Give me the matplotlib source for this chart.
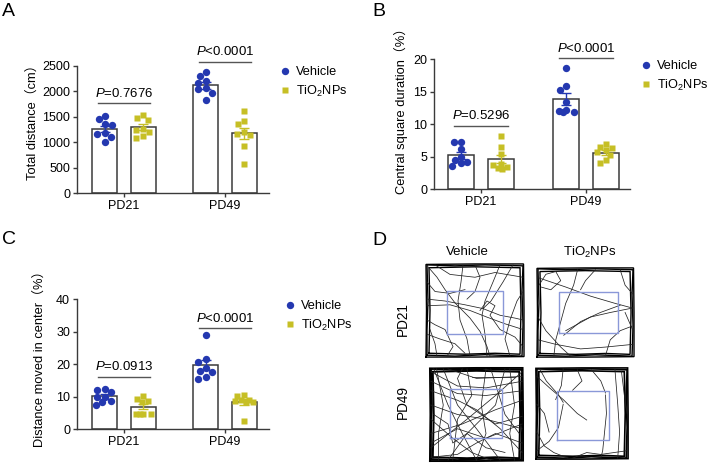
import matplotlib
matplotlib.use('Agg')
import matplotlib.pyplot as plt
import numpy as np
from matplotlib.lines import Line2D

plt.rcParams['font.family'] = ['Liberation Sans', 'Noto Sans CJK SC', 'DejaVu Sans']
plt.rcParams['mathtext.fontset'] = 'custom'
plt.rcParams['mathtext.rm'] = 'Liberation Sans'
plt.rcParams['mathtext.it'] = 'Liberation Sans:italic'

# ---------------- data ----------------
groups = ['PD21', 'PD49']
legend_labels = ['Vehicle', 'TiO$_2$NPs']

# A: total distance (cm)
dist_vehicle = [[1520, 1450, 1350, 1330, 1180, 1170, 1100, 1000],
                [2380, 2300, 2205, 2170, 2060, 2040, 1975, 1830]]
dist_tio2 = [[1535, 1480, 1437, 1260, 1240, 1207, 1122, 1089],
             [1620, 1420, 1350, 1200, 1170, 1140, 930, 570]]
dist_p = ['=0.7676', '<0.0001']
dist_pline = [1766, 2585]
dist_ticks = [0, 500, 1000, 1500, 2000, 2500]

# B: central square duration (%)
dur_vehicle = [[7.2, 7.2, 6.1, 4.9, 4.4, 4.2, 4.0, 3.6],
               [18.6, 15.9, 15.2, 13.4, 12.2, 12.0, 11.9, 11.8]]
dur_tio2 = [[8.2, 6.4, 5.4, 3.8, 3.7, 3.4, 3.2, 3.1],
            [6.9, 6.4, 6.3, 6.0, 5.7, 5.2, 4.4, 4.0]]
dur_p = ['=0.5296', '<0.0001']
dur_pline = [9.76, 20.1]
dur_ticks = [0, 5, 10, 15, 20]

# C: distance moved in center (%)
cen_vehicle = [[12.3, 11.85, 11.5, 10.0, 9.8, 8.7, 8.4, 7.46],
               [28.9, 21.4, 20.7, 18.8, 17.9, 17.5, 16.1, 15.4]]
cen_tio2 = [[10.3, 9.1, 8.6, 8.3, 4.7, 4.7, 4.7, 4.7],
            [10.4, 10.1, 8.9, 8.8, 8.6, 8.4, 8.2, 2.45]]
cen_p = ['=0.0913', '<0.0001']
cen_pline = [16.05, 31.0]
cen_ticks = [0, 10, 20, 30, 40]

# D: open-field tracks (normalised arena coordinates)
track_walls = [
    [(0.02, 0.03), (0.3, 0.02), (0.6, 0.035), (0.97, 0.02), (0.98, 0.35), (0.97, 0.7), (0.98, 0.97),
     (0.6, 0.98), (0.3, 0.97), (0.02, 0.98), (0.03, 0.6), (0.02, 0.3), (0.02, 0.03)],
    [(0.04, 0.05), (0.4, 0.04), (0.7, 0.05), (0.95, 0.04), (0.96, 0.5), (0.95, 0.95),
     (0.5, 0.96), (0.04, 0.95), (0.05, 0.5), (0.04, 0.05)],
    [(0.01, 0.01), (0.5, 0.01), (0.99, 0.015), (0.99, 0.5), (0.985, 0.99), (0.5, 0.99),
     (0.01, 0.985), (0.015, 0.5), (0.01, 0.01)],
]
track_pd21_vehicle = [
    [(0.03, 0.96), (0.12, 0.85), (0.2, 0.72), (0.3, 0.58), (0.45, 0.42), (0.55, 0.28), (0.62, 0.12), (0.65, 0.02)],
    [(0.02, 0.62), (0.2, 0.6), (0.4, 0.56), (0.58, 0.52), (0.75, 0.45), (0.9, 0.42), (0.98, 0.4)],
    [(0.02, 0.55), (0.25, 0.56), (0.45, 0.5), (0.62, 0.43), (0.8, 0.36), (0.98, 0.3)],
    [(0.38, 0.98), (0.36, 0.8), (0.33, 0.6), (0.35, 0.4), (0.42, 0.2), (0.45, 0.02)],
    [(0.75, 0.98), (0.68, 0.8), (0.6, 0.6), (0.57, 0.45), (0.6, 0.25), (0.62, 0.02)],
    [(0.88, 0.98), (0.78, 0.8), (0.66, 0.6), (0.58, 0.52)],
    [(0.02, 0.25), (0.15, 0.2), (0.3, 0.15), (0.4, 0.05)],
    [(0.55, 0.5), (0.62, 0.6), (0.7, 0.55), (0.65, 0.45), (0.75, 0.3), (0.9, 0.22), (0.98, 0.12)],
    [(0.1, 0.98), (0.25, 0.88), (0.5, 0.85), (0.7, 0.9), (0.98, 0.85)],
    [(0.02, 0.4), (0.1, 0.35), (0.2, 0.3), (0.28, 0.12), (0.22, 0.02)],
    [(0.85, 0.02), (0.8, 0.2), (0.85, 0.4), (0.92, 0.6), (0.98, 0.7)],
    [(0.5, 0.98), (0.55, 0.85), (0.5, 0.7), (0.42, 0.62)],
    [(0.12, 0.02), (0.1, 0.15), (0.05, 0.3)],
    [(0.02, 0.8), (0.1, 0.7), (0.25, 0.68), (0.4, 0.72)],
]
track_pd21_tio2 = [
    [(0.03, 0.8), (0.1, 0.92), (0.2, 0.95), (0.25, 0.85), (0.15, 0.75), (0.05, 0.78)],
    [(0.42, 0.97), (0.38, 0.8), (0.3, 0.6), (0.25, 0.4), (0.2, 0.2), (0.18, 0.02)],
    [(0.03, 0.88), (0.3, 0.78), (0.55, 0.68), (0.8, 0.6), (0.97, 0.55)],
    [(0.28, 0.25), (0.45, 0.4), (0.65, 0.5), (0.85, 0.58)],
    [(0.3, 0.3), (0.55, 0.45), (0.75, 0.5), (0.98, 0.55)],
    [(0.02, 0.2), (0.2, 0.15), (0.45, 0.1), (0.7, 0.12), (0.98, 0.15)],
    [(0.85, 0.97), (0.9, 0.8), (0.98, 0.7)],
    [(0.02, 0.45), (0.1, 0.3), (0.25, 0.12), (0.35, 0.02)],
    [(0.7, 0.02), (0.75, 0.2), (0.85, 0.3), (0.97, 0.35)],
    [(0.6, 0.97), (0.5, 0.85), (0.45, 0.75)],
    [(0.98, 0.3), (0.9, 0.5)],
]
track_pd49_vehicle = [
    [(0.02, 0.95), (0.3, 0.8), (0.6, 0.78), (0.98, 0.85)],
    [(0.02, 0.85), (0.3, 0.72), (0.6, 0.7), (0.98, 0.75)],
    [(0.05, 0.98), (0.2, 0.6), (0.35, 0.3), (0.5, 0.02)],
    [(0.15, 0.98), (0.3, 0.6), (0.5, 0.35), (0.75, 0.02)],
    [(0.02, 0.6), (0.3, 0.5), (0.6, 0.45), (0.98, 0.35)],
    [(0.02, 0.3), (0.35, 0.4), (0.7, 0.55), (0.98, 0.65)],
    [(0.6, 0.98), (0.55, 0.6), (0.6, 0.3), (0.5, 0.02)],
    [(0.8, 0.98), (0.7, 0.6), (0.4, 0.3), (0.2, 0.02)],
    [(0.98, 0.95), (0.7, 0.7), (0.4, 0.45), (0.02, 0.15)],
    [(0.02, 0.45), (0.25, 0.25), (0.45, 0.1), (0.65, 0.02)],
    [(0.9, 0.02), (0.85, 0.3), (0.9, 0.6), (0.85, 0.98)],
    [(0.1, 0.02), (0.1, 0.3), (0.15, 0.6), (0.08, 0.98)],
    [(0.98, 0.2), (0.7, 0.3), (0.5, 0.2), (0.3, 0.08), (0.02, 0.05)],
    [(0.4, 0.98), (0.45, 0.7), (0.3, 0.45), (0.25, 0.02)],
    [(0.02, 0.75), (0.3, 0.65), (0.5, 0.55), (0.75, 0.35), (0.98, 0.1)],
    [(0.45, 0.9), (0.9, 0.9)],
    [(0.2, 0.98), (0.5, 0.88), (0.98, 0.9)],
    [(0.65, 0.98), (0.8, 0.5), (0.95, 0.3)],
    [(0.02, 0.2), (0.3, 0.35), (0.6, 0.25), (0.98, 0.4)],
    [(0.35, 0.98), (0.3, 0.88), (0.4, 0.6), (0.7, 0.4), (0.98, 0.48)],
    [(0.05, 0.5), (0.2, 0.4), (0.25, 0.2), (0.4, 0.3), (0.6, 0.15), (0.8, 0.1)],
]
track_pd49_tio2 = [
    [(0.02, 0.9), (0.15, 0.78), (0.3, 0.65), (0.45, 0.5), (0.55, 0.43)],
    [(0.05, 0.98), (0.12, 0.85), (0.25, 0.7), (0.3, 0.62)],
    [(0.3, 0.98), (0.28, 0.8), (0.22, 0.65)],
    [(0.75, 0.7), (0.76, 0.5), (0.74, 0.3), (0.72, 0.1), (0.7, 0.02)],
    [(0.02, 0.1), (0.15, 0.2), (0.25, 0.35), (0.3, 0.6)],
    [(0.02, 0.3), (0.1, 0.15), (0.2, 0.08), (0.35, 0.02)],
    [(0.4, 0.02), (0.55, 0.08), (0.7, 0.06), (0.98, 0.1)],
    [(0.45, 0.97), (0.5, 0.85), (0.4, 0.75)],
    [(0.85, 0.98), (0.88, 0.6), (0.9, 0.3), (0.88, 0.02)],
    [(0.6, 0.97), (0.7, 0.85), (0.75, 0.72)],
    [(0.02, 0.6), (0.1, 0.5), (0.15, 0.3)],
    [(0.92, 0.95), (0.95, 0.7), (0.98, 0.5)],
]
# inner (centre) square of each arena: x0, x1, y0, y1
center_pd21_vehicle = (0.223, 0.783, 0.256, 0.71)
center_pd21_tio2 = (0.235, 0.825, 0.27, 0.72)
center_pd49_vehicle = (0.22, 0.765, 0.248, 0.767)
center_pd49_tio2 = (0.236, 0.788, 0.216, 0.744)

# ---------------- style ----------------
BLUE = '#2438b0'
YEL = '#c6bf25'
EDGE = '#3a3a3a'
SQ = '#8a98d8'
W, H = 709, 465
fig = plt.figure(figsize=(W / 100, H / 100), dpi=100)


def px_axes(l, t, r, b):
    return fig.add_axes([l / W, 1 - b / H, (r - l) / W, (b - t) / H])


def swarm(ax, xc, vals, diam, maxoff):
    pts = [ax.transData.transform((xc, v)) for v in vals]
    order = np.argsort(vals)[::-1]
    placed = []
    out = [xc] * len(vals)
    cands = sorted(np.linspace(-maxoff, maxoff, 13), key=lambda c: (abs(c), c))
    for i in order:
        px, py = pts[i]
        best, bestd = None, -1
        for c in cands:
            d = min([np.hypot(px + c - qx, py - qy) for qx, qy in placed] + [1e9])
            if d >= diam:
                best = c
                break
            if d > bestd:
                best, bestd = c, d
        placed.append((px + best, py))
        out[i] = ax.transData.inverted().transform((px + best, py))[0]
    return out


def bar_panel(box, veh, tio, ticks, ylabel, pvals, plines, ylabel_xy, leg_anchor):
    ax = px_axes(*box)
    l, t, r, b = box
    span = r - l - 47 - 44
    ax.set_xlim(-47 / span, 1 + 44 / span)
    ax.set_ylim(0, ticks[-1])
    off, bw = 0.19, 0.25
    for i in range(2):
        for data, o, col, mk in [(veh[i], -off, BLUE, 'o'), (tio[i], off, YEL, 's')]:
            m = np.mean(data)
            sem = np.std(data, ddof=1) / np.sqrt(len(data))
            ax.bar(i + o, m, width=bw, facecolor='white', edgecolor=EDGE, lw=1.1, zorder=1)
            ax.errorbar(i + o, m, yerr=sem, color=col, capsize=3.5, lw=1, capthick=1, zorder=2)
            xs = swarm(ax, i + o, data, 6.5, 9.0)
            ax.plot(xs, data, mk, color=col, ms=5.3 if mk == 'o' else 5.0, ls='none', zorder=3,
                    mec='none')
        ax.plot([i - 0.26, i + 0.26], [plines[i], plines[i]], color='#555555', lw=1, clip_on=False)
        ax.annotate('$P$' + pvals[i], xy=(i, plines[i]), xytext=(0, 2.5), textcoords='offset points',
                    ha='center', va='bottom', fontsize=9.5, annotation_clip=False)
    for s in ['top', 'right']:
        ax.spines[s].set_visible(False)
    for s in ['left', 'bottom']:
        ax.spines[s].set_color(EDGE)
        ax.spines[s].set_linewidth(1)
    ax.set_xticks([0, 1])
    ax.set_xticklabels(groups)
    ax.set_yticks(ticks)
    ax.tick_params(length=3, width=1, color=EDGE, labelsize=9, pad=2)
    ax.set_ylabel(ylabel, fontsize=9.3)
    ax.yaxis.set_label_coords(*ylabel_xy)
    handles = [Line2D([], [], marker='o', color=BLUE, ls='none', ms=5.3, mec='none', label=legend_labels[0]),
               Line2D([], [], marker='s', color=YEL, ls='none', ms=5.0, mec='none', label=legend_labels[1])]
    ax.legend(handles=handles, loc='upper left', bbox_to_anchor=(leg_anchor[0] / W, 1 - leg_anchor[1] / H),
              bbox_transform=fig.transFigure, frameon=False, fontsize=9.2, handletextpad=0.35,
              labelspacing=0.45, borderaxespad=0, borderpad=0, handlelength=1.0)
    return ax


bar_panel((77, 66, 269, 193), dist_vehicle, dist_tio2, dist_ticks, 'Total distance（cm）',
          dist_p, dist_pline, (-0.198, 0.58), (279, 66))
bar_panel((434, 59, 630, 189), dur_vehicle, dur_tio2, dur_ticks, 'Central square duration（%）',
          dur_p, dur_pline, (-0.133, 0.62), (640, 60))
bar_panel((77, 299, 269, 429), cen_vehicle, cen_tio2, cen_ticks, 'Distance moved in center（%）',
          cen_p, cen_pline, (-0.161, 0.56), (284, 300))

# ---------------- panel D ----------------
arenas = [((425, 263, 525, 358), track_pd21_vehicle, center_pd21_vehicle, 1.0),
          ((536, 267, 635, 358), track_pd21_tio2, center_pd21_tio2, 1.0),
          ((429, 367, 524, 462), track_pd49_vehicle, center_pd49_vehicle, 1.4),
          ((535, 367, 629, 460), track_pd49_tio2, center_pd49_tio2, 1.2)]
for box, tracks, csq, wlw in arenas:
    ax = px_axes(*box)
    ax.set_xlim(0, 1)
    ax.set_ylim(0, 1)
    ax.axis('off')
    for wall in track_walls:
        xs, ys = zip(*wall)
        ax.plot(xs, ys, color='black', lw=wlw, clip_on=False, solid_joinstyle='miter')
    for tr in tracks:
        xs, ys = zip(*tr)
        ax.plot(xs, ys, color='#222222', lw=0.55, clip_on=False)
    x0, x1, y0, y1 = csq
    ax.plot([x0, x1, x1, x0, x0], [y0, y0, y1, y1, y0], color=SQ, lw=1.0)

fig.text(467 / W, 1 - 252 / H, 'Vehicle', ha='center', va='center', fontsize=9.5)
fig.text(590 / W, 1 - 252 / H, 'TiO$_2$NPs', ha='center', va='center', fontsize=9.5)
fig.text(403 / W, 1 - 319 / H, 'PD21', ha='center', va='center', rotation=90, fontsize=9.8)
fig.text(403 / W, 1 - 402 / H, 'PD49', ha='center', va='center', rotation=90, fontsize=9.8)

# panel letters
for lab, x, y in [('A', 2, 3), ('B', 372, 3), ('C', 2, 231), ('D', 372, 232)]:
    fig.text(x / W, 1 - y / H, lab, ha='left', va='top', fontsize=14)

fig.savefig('out.png', dpi=100)
